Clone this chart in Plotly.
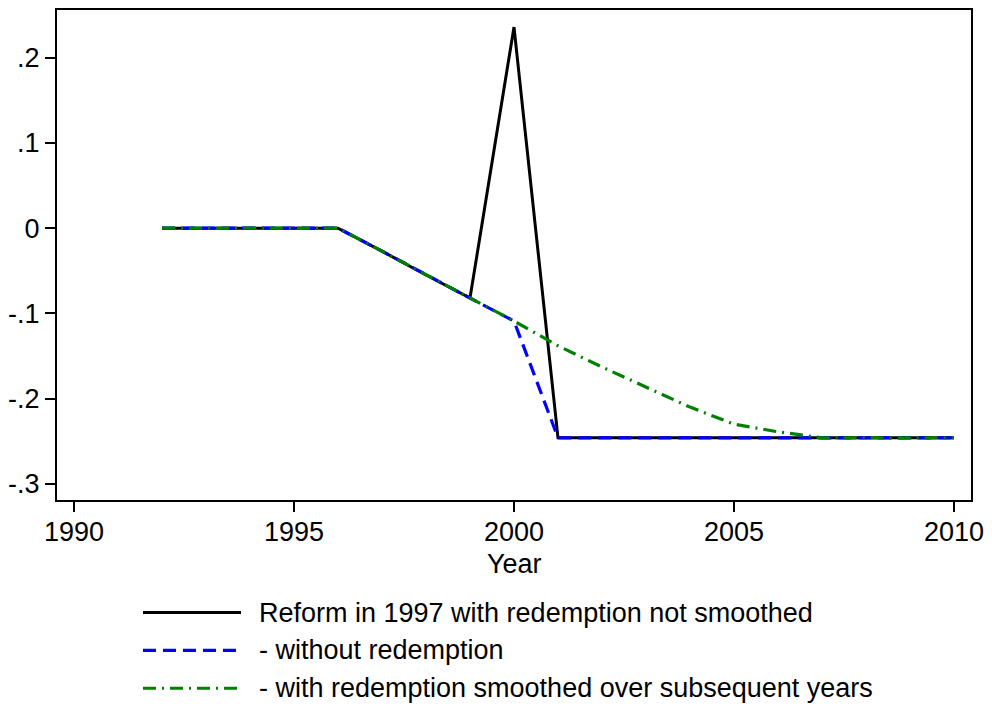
import plotly.graph_objects as go

years = list(range(1992, 2011))
not_smoothed = [0, 0, 0, 0, 0, -0.027, -0.055, -0.082, 0.236, -0.246,
                -0.246, -0.246, -0.246, -0.246, -0.246, -0.246, -0.246, -0.246, -0.246]
without_redemption = [0, 0, 0, 0, 0, -0.027, -0.055, -0.082, -0.109, -0.246,
                      -0.246, -0.246, -0.246, -0.246, -0.246, -0.246, -0.246, -0.246, -0.246]
smoothed = [0, 0, 0, 0, 0, -0.027, -0.055, -0.082, -0.109, -0.138,
            -0.163, -0.187, -0.210, -0.230, -0.239, -0.246, -0.246, -0.246, -0.246]

x_ticks = [1990, 1995, 2000, 2005, 2010]
y_ticks = [-0.3, -0.2, -0.1, 0, 0.1, 0.2]
y_tick_labels = ["-.3", "-.2", "-.1", "0", ".1", ".2"]
legend_labels = ["Reform in 1997 with redemption not smoothed",
                 "- without redemption",
                 "- with redemption smoothed over subsequent years"]

FONT = "Liberation Sans, Arial, sans-serif"
FS = 27
W, H = 992, 708
L, R, T, B = 57, 21, 8, 208
pw, ph = W - L - R, H - T - B

styles = [
    dict(color="black", width=3, dash="solid"),
    dict(color="#0000ff", width=3.2, dash="13px,7px"),
    dict(color="#008000", width=3.2, dash="13px,6px,2px,6px"),
]
series = [not_smoothed, without_redemption, smoothed]

fig = go.Figure()
for vals, st, name in zip(series, styles, legend_labels):
    fig.add_trace(go.Scatter(x=years, y=vals, mode="lines", name=name,
                             line=st, showlegend=False))

# custom legend below the plot
row_y = [613, 651, 689]
for st, name, py in zip(styles, legend_labels, row_y):
    yp = (H - B - py) / ph
    fig.add_shape(type="line", xref="paper", yref="paper",
                  x0=(143 - L) / pw, x1=(241 - L) / pw, y0=yp, y1=yp,
                  line=st)
    fig.add_annotation(xref="paper", yref="paper", x=(257 - L) / pw, y=yp,
                       text=name, showarrow=False, xanchor="left", yanchor="middle",
                       font=dict(family=FONT, size=FS, color="black"))

# x-axis title
fig.add_annotation(xref="x", yref="paper", x=2000, y=(H - B - 564) / ph,
                   text="Year", showarrow=False, xanchor="center", yanchor="middle",
                   font=dict(family=FONT, size=FS, color="black"))

fig.update_layout(
    width=W, height=H,
    margin=dict(l=L, r=R, t=T, b=B, pad=0),
    paper_bgcolor="white", plot_bgcolor="white",
    font=dict(family=FONT, size=FS, color="black"),
)
fig.update_xaxes(range=[1989.614, 2010.386], tickvals=x_ticks,
                 ticks="outside", ticklen=10, tickwidth=1.5, tickcolor="black",
                 ticklabelstandoff=-3,
                 showgrid=False, zeroline=False, showline=True, linecolor="black",
                 linewidth=2, mirror=True, tickfont=dict(family=FONT, size=FS))
fig.update_yaxes(range=[-0.319, 0.256], tickvals=y_ticks, ticktext=y_tick_labels,
                 ticks="outside", ticklen=10, tickwidth=1.5, tickcolor="black",
                 showgrid=False, zeroline=False, showline=True, linecolor="black",
                 linewidth=2, mirror=True, tickfont=dict(family=FONT, size=FS))

fig.write_html("out.html")
